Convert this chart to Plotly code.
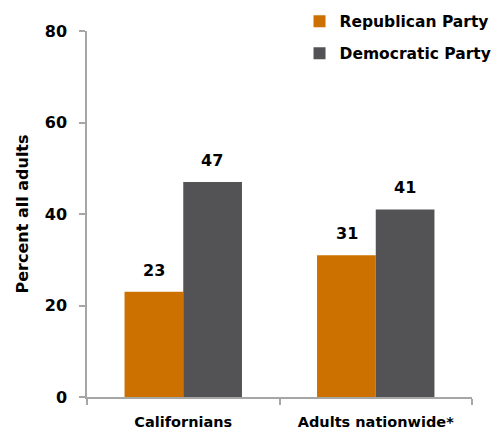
import plotly.graph_objects as go

categories = ["Californians", "Adults nationwide*"]
republican = [23, 31]
democratic = [47, 41]
series_names = ["Republican Party", "Democratic Party"]
y_ticks = [0, 20, 40, 60, 80]

ORANGE = "#CC7000"
GRAY = "#535355"
AXIS = "#A6A6A6"
FONT = "DejaVu Sans"

fig = go.Figure()
fig.add_trace(go.Bar(x=categories, y=republican, name=f"<b>{series_names[0]}</b>",
                     marker=dict(color=ORANGE, line=dict(width=0)), legendgroup="r"))
fig.add_trace(go.Bar(x=categories, y=democratic, name=f"<b>{series_names[1]}</b>",
                     marker=dict(color=GRAY, line=dict(width=0)), legendgroup="d"))

for vals, shift in ((republican, -29), (democratic, 29)):
    for c, v in zip(categories, vals):
        fig.add_annotation(x=c, y=v, text=f"<b>{v}</b>", showarrow=False,
                           xref="x", yref="y", xshift=shift, yanchor="bottom", yshift=10,
                           font=dict(family=FONT, size=16, color="black"))

fig.update_layout(
    width=499, height=429,
    margin=dict(l=87, r=27, t=31, b=32, autoexpand=False),
    paper_bgcolor="white", plot_bgcolor="white",
    barmode="group", bargap=0.39, bargroupgap=0,
    font=dict(family=FONT, color="black"),
    legend=dict(x=0.552, y=1.072, xanchor="left", yanchor="top",
                font=dict(family=FONT, size=15.5, color="black"),
                tracegroupgap=9, traceorder="grouped", bgcolor="rgba(0,0,0,0)",
                itemwidth=30),
    xaxis=dict(showline=True, linecolor=AXIS, linewidth=1.5, ticks="outside",
               tickson="boundaries", ticklen=6, tickcolor=AXIS, tickwidth=1.5,
               tickfont=dict(family=FONT, size=14.5, color="black", weight="bold"),
               ticklabelstandoff=11, showgrid=False, zeroline=False, automargin=False),
    yaxis=dict(range=[0, 80], tickvals=y_ticks, showline=True, linecolor=AXIS, linewidth=1.5,
               ticks="outside", ticklen=6, tickcolor=AXIS, tickwidth=1.5,
               tickfont=dict(family=FONT, size=16, color="black", weight="bold"),
               ticklabelstandoff=9, showgrid=False, zeroline=False, automargin=False,
               title=dict(text="<b>Percent all adults</b>", standoff=12,
                          font=dict(family=FONT, size=16, color="black"))),
)

fig.write_html("out.html")
